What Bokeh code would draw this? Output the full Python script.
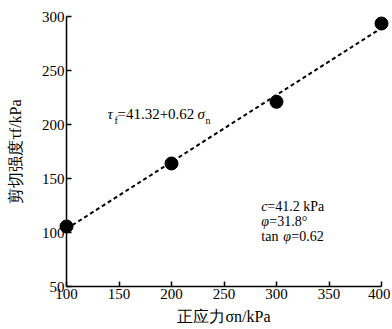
from bokeh.plotting import figure
from bokeh.models import Range1d, Label, FixedTicker
from bokeh.embed import file_html
from bokeh.resources import INLINE
import numpy as np

# data
sigma_n = [100, 200, 300, 400]
tau_f = [105.6, 163.9, 221.0, 293.5]
fit_c = 41.32
fit_k = 0.62
x_ticks = [100, 150, 200, 250, 300, 350, 400]
y_ticks = [50, 100, 150, 200, 250, 300]

SERIF = "Liberation Serif"

p = figure(output_backend="svg", toolbar_location=None,
           x_range=Range1d(100, 400), y_range=Range1d(50, 300),
           frame_width=315, frame_height=270,
           min_border_left=66, min_border_right=9, min_border_top=16, min_border_bottom=40)
p.outline_line_color = None
p.xgrid.visible = False
p.ygrid.visible = False

fit_x = np.array([sigma_n[0], sigma_n[-1]])
fit_y = fit_c + fit_k * fit_x
p.line(fit_x, fit_y, line_color="black", line_width=2, line_dash="4 3")
p.scatter(sigma_n, tau_f, size=13, color="black", level="overlay")

for ax in (p.xaxis[0], p.yaxis[0]):
    ax.major_tick_in = 5
    ax.major_tick_out = 0
    ax.minor_tick_in = 0
    ax.minor_tick_out = 0
    ax.axis_line_width = 1.5
    ax.axis_line_color = "black"
    ax.major_tick_line_color = "black"
    ax.major_tick_line_width = 1.5
    ax.major_label_text_font = SERIF
    ax.major_label_text_font_size = "15px"
    ax.major_label_text_color = "black"
    ax.axis_label_text_font = SERIF
    ax.axis_label_text_font_size = "16px"
    ax.axis_label_text_font_style = "normal"
    ax.axis_label_text_color = "black"
    ax.major_label_standoff = 2

p.xaxis.axis_label_standoff = 6
p.yaxis.axis_label_standoff = 15
p.xaxis.ticker = FixedTicker(ticks=x_ticks)
p.yaxis.ticker = FixedTicker(ticks=y_ticks)
p.xaxis.axis_label = "正应力σn/kPa"
p.yaxis.axis_label = "剪切强度τf/kPa"

def lab(x, y, text, dx=0, size="15px", style="normal", dy=0):
    p.add_layout(Label(x=x, y=y, x_offset=dx, y_offset=dy, text=text, text_font=SERIF,
                       text_font_size=size, text_font_style=style, text_color="black"))

# equation
ex, ey = 139, 202
lab(ex, ey, "τ", 0, style="italic")
lab(ex, ey, "f", 7, size="10px", dy=-4)
lab(ex, ey, "=41.32+0.62", 10)
lab(ex, ey, "σ", 90, style="italic")
lab(ex, ey, "n", 98, size="10px", dy=-4)

# parameters
px_, py_ = 285.5, 89
lab(px_, py_, "c", 0, size="14px", style="italic", dy=30)
lab(px_, py_, "=41.2 kPa", 6, size="14px", dy=30)
lab(px_, py_, "φ", 0, size="14px", style="italic", dy=15)
lab(px_, py_, "=31.8°", 8, size="14px", dy=15)
lab(px_, py_, "tan ", 0, size="14px")
lab(px_, py_, "φ", 22, size="14px", style="italic")
lab(px_, py_, "=0.62", 30, size="14px")

open("out.html", "w").write(file_html(p, INLINE))
